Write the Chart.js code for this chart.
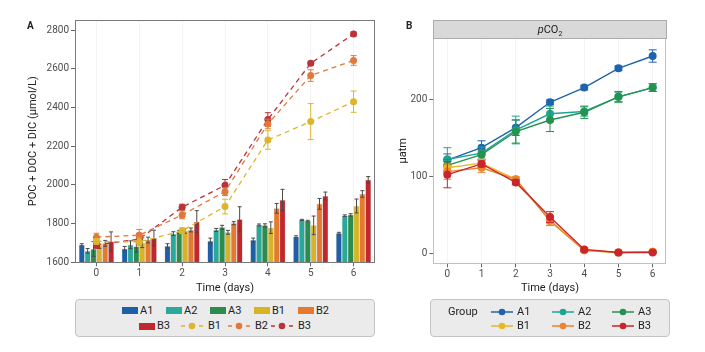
<!DOCTYPE html>
<html><head><meta charset="utf-8">
<script src="https://cdn.jsdelivr.net/npm/chart.js@4"></script>
<style>
body{margin:0;width:705px;height:352px;background:#fff;font-family:Roboto,"Noto Sans",sans-serif;position:relative;overflow:hidden;color:#222}
canvas{position:absolute;top:0}
.t{position:absolute;font-size:11px;line-height:12px;white-space:nowrap;color:#222}
.box{position:absolute;background:#ebebeb;border:1px solid #c4c4c4;border-radius:4px;box-sizing:border-box}
.sw{position:absolute;width:16px;height:7px}
svg{position:absolute;overflow:visible}
</style></head><body>
<canvas id="ca" width="380" height="300" style="left:0;width:380px;height:300px"></canvas>
<canvas id="cb" width="325" height="300" style="left:380px;width:325px;height:300px"></canvas>
<div class="t" style="left:27px;top:20px;font-weight:bold;font-size:10px">A</div>
<div class="t" style="left:406px;top:20px;font-weight:bold;font-size:10px">B</div>
<div style="position:absolute;left:433px;top:20px;width:234px;height:19px;background:#d9d9d9;border:1px solid #ababab;box-sizing:border-box;text-align:center;font-size:11px;line-height:17px"><i>p</i>CO<sub style="font-size:7px;line-height:0">2</sub></div>
<div class="box" style="left:75px;top:299px;width:300px;height:38px"></div>
<div class="box" style="left:430px;top:299px;width:240px;height:38px"></div>
<div id="lega"></div>
<div id="legb"></div>
<script>
// ---------------- data ----------------
const days = ['0','1','2','3','4','5','6'];
const dayNums = [0,1,2,3,4,5,6];
// Panel A: bars (POC + DOC + DIC, µmol/L)
const barA1 = [1690,1670,1684,1710,1715,1732,1750];
const barA2 = [1659,1691,1748,1767,1793,1819,1841];
const barA3 = [1669,1681,1757,1781,1791,1813,1845];
const barB1 = [1690,1701,1762,1755,1779,1791,1891];
const barB2 = [1698,1715,1767,1802,1879,1902,1953];
const barB3 = [1707,1726,1810,1822,1922,1943,2026];
const barErrA1 = [6,12,12,15,10,5,5];
const barErrA2 = [12,20,10,8,5,3,4];
const barErrA3 = [38,28,8,10,8,4,6];
const barErrB1 = [18,25,12,10,30,48,36];
const barErrB2 = [15,15,10,8,25,28,17];
const barErrB3 = [50,40,57,65,55,20,17];
// Panel A: dashed lines
const lineB1 = [1708,1705,1763,1888,2232,2327,2430];
const lineB2 = [1730,1740,1845,1965,2315,2565,2643];
const lineB3 = [1690,1720,1885,1998,2338,2628,2780];
const lineErrB1 = [15,20,15,38,48,93,55];
const lineErrB2 = [20,30,20,20,25,30,25];
const lineErrB3 = [18,30,15,30,35,10,10];
const yTicksA = [1600,1800,2000,2200,2400,2600,2800];
// Panel B: pCO2 (µatm)
const pA1 = [121,137,163,196,215,240,256];
const pA2 = [122,130,160,181,184,203,215];
const pA3 = [114,128,158,173,183,203,215];
const pB1 = [111,117,96,43,4,1,2];
const pB2 = [106,111,96,42,4,1,2];
const pB3 = [102,116,92,47,5,1,1];
const pErrA1 = [8,9,10,3,3,3,8];
const pErrA2 = [15,8,18,10,6,6,5];
const pErrA3 = [8,6,15,15,8,7,5];
const pErrB1 = [8,5,3,5,2,1,1];
const pErrB2 = [10,6,3,6,2,1,1];
const pErrB3 = [17,4,3,7,2,1,1];
const yTicksB = [0,100,200];

// ---------------- styles ----------------
const colA = {A1:'#1f5fa6',A2:'#2aa89a',A3:'#2b8c4e',B1:'#d8b328',B2:'#e57a2e',B3:'#c1272d'};
const colLineA = {B1:'#dcb52e',B2:'#e0783a',B3:'#b8333a'};
const colB = {A1:'#1f63ad',A2:'#1fa595',A3:'#24934f',B1:'#e7b923',B2:'#ec8531',B3:'#c9252b'};
const tickFont = {family:'Roboto', size:10};
const titleFont = {family:'Roboto', size:11};
const plain = v => String(v);

const errPlugin = {
  id:'err',
  drawErr(chart, index, meta){
    const ds = chart.data.datasets[index];
    if(!ds.err) return;
    const ctx = chart.ctx, ys = chart.scales.y;
    ctx.save();
    ctx.strokeStyle = ds.errColor; ctx.lineWidth = 1;
    meta.data.forEach((el,j)=>{
      const raw = ds.data[j]; const v = typeof raw==='object'? raw.y : raw;
      const e = ds.err[j]; const x = el.x;
      const y1 = ys.getPixelForValue(v-e), y2 = ys.getPixelForValue(v+e);
      const w = ds.capW;
      ctx.beginPath();
      ctx.moveTo(x,y1); ctx.lineTo(x,y2);
      ctx.moveTo(x-w,y1); ctx.lineTo(x+w,y1);
      ctx.moveTo(x-w,y2); ctx.lineTo(x+w,y2);
      ctx.stroke();
    });
    ctx.restore();
  },
  beforeDatasetDraw(chart,args){ const ds=chart.data.datasets[args.index]; if(ds.errBefore) this.drawErr(chart,args.index,args.meta); },
  afterDatasetDraw(chart,args){ const ds=chart.data.datasets[args.index]; if(!ds.errBefore) this.drawErr(chart,args.index,args.meta); },
  afterDraw(chart){
    const a = chart.chartArea, ctx = chart.ctx;
    ctx.save(); ctx.strokeStyle = chart.options.plugins.err.frame; ctx.lineWidth = 1;
    ctx.strokeRect(Math.round(a.left)+0.5, Math.round(a.top)+0.5, Math.round(a.right-a.left)-1, Math.round(a.bottom-a.top));
    ctx.restore();
  }
};

function barDs(label, data, err, color){
  return {type:'bar', label, data, err, errColor:'#4a4a4a', capW:2, backgroundColor:color,
    borderColor:'rgba(0,0,0,0.3)', borderWidth:0.5, order:2, categoryPercentage:0.82, barPercentage:1};
}
function dashDs(label, data, err, color){
  return {type:'line', label, data, err, errColor:color, capW:3, errBefore:true, borderColor:color,
    backgroundColor:color, borderDash:[5,4], borderWidth:1.3, pointRadius:3.5, pointBorderWidth:0,
    pointBackgroundColor:color, order:1, tension:0};
}

new Chart(document.getElementById('ca'), {
  data:{labels:days, datasets:[
    barDs('A1',barA1,barErrA1,colA.A1), barDs('A2',barA2,barErrA2,colA.A2), barDs('A3',barA3,barErrA3,colA.A3),
    barDs('B1',barB1,barErrB1,colA.B1), barDs('B2',barB2,barErrB2,colA.B2), barDs('B3',barB3,barErrB3,colA.B3),
    dashDs('B1',lineB1,lineErrB1,colLineA.B1), dashDs('B2',lineB2,lineErrB2,colLineA.B2), dashDs('B3',lineB3,lineErrB3,colLineA.B3)
  ]},
  options:{
    responsive:false, animation:false, devicePixelRatio:1,
    layout:{padding:{left:25,right:5,top:20,bottom:0}},
    plugins:{legend:{display:false}, tooltip:{enabled:false}, err:{frame:'#7a7a7a'}},
    scales:{
      x:{type:'category', offset:true,
        grid:{offset:false, color:'#f3f3f3', tickColor:'#666', tickLength:4},
        border:{display:false},
        ticks:{font:tickFont, color:'#4d4d4d', padding:1},
        title:{display:true, text:'Time (days)', font:titleFont, color:'#222', padding:{top:0,bottom:5}},
        afterFit(s){ s.height = 37.7; }
      },
      y:{type:'linear', min:1600, max:2852,
        grid:{drawOnChartArea:false, tickColor:'#666', tickLength:4},
        border:{display:false},
        ticks:{font:tickFont, color:'#4d4d4d', padding:2, callback:plain},
        afterBuildTicks(s){ s.ticks = yTicksA.map(v=>({value:v})); },
        title:{display:true, text:'POC + DOC + DIC (μmol/L)', font:titleFont, color:'#222', padding:{top:2,bottom:0}},
        afterFit(s){ s.width = 50; }
      }
    }
  },
  plugins:[errPlugin]
});

function pDs(label, vals, err, color, order){
  return {type:'line', label, data: dayNums.map((d,i)=>({x:d, y:vals[i]})), err, errColor:color, capW:4, errBefore:true,
    borderColor:color, backgroundColor:color, borderWidth:1.4, pointRadius:4, pointBorderWidth:0,
    pointBackgroundColor:color, order, tension:0};
}
new Chart(document.getElementById('cb'), {
  type:'line',
  data:{datasets:[
    pDs('A1',pA1,pErrA1,colB.A1,5), pDs('A2',pA2,pErrA2,colB.A2,4), pDs('A3',pA3,pErrA3,colB.A3,3),
    pDs('B1',pB1,pErrB1,colB.B1,2), pDs('B2',pB2,pErrB2,colB.B2,1), pDs('B3',pB3,pErrB3,colB.B3,0)
  ]},
  options:{
    responsive:false, animation:false, devicePixelRatio:1,
    layout:{padding:{left:15,right:38.3,top:38.3,bottom:0}},
    plugins:{legend:{display:false}, tooltip:{enabled:false}, err:{frame:'#c2c2c2'}},
    scales:{
      x:{type:'linear', min:-0.41, max:6.41,
        grid:{color:'#f3f3f3', tickColor:'#666', tickLength:4},
        border:{display:false},
        afterBuildTicks(s){ s.ticks = dayNums.map(v=>({value:v})); },
        ticks:{font:{family:'Roboto',size:10}, color:'#4d4d4d', padding:1, callback:plain},
        title:{display:true, text:'Time (days)', font:titleFont, color:'#222', padding:{top:0,bottom:5}},
        afterFit(s){ s.height = 36.7; }
      },
      y:{type:'linear', min:-13, max:279,
        grid:{drawOnChartArea:false, tickColor:'#666', tickLength:4},
        border:{display:false},
        afterBuildTicks(s){ s.ticks = yTicksB.map(v=>({value:v})); },
        ticks:{font:{family:'Roboto',size:10}, color:'#4d4d4d', padding:2, callback:plain},
        title:{display:true, text:'μatm', font:titleFont, color:'#222', padding:{top:2,bottom:0}},
        afterFit(s){ s.width = 38.3; }
      }
    }
  },
  plugins:[errPlugin]
});

// ---------------- legends ----------------
function text(parent, x, yc, s){ const d=document.createElement('div'); d.className='t'; d.style.left=x+'px'; d.style.top=(yc-6)+'px'; d.textContent=s; parent.appendChild(d); }
function swatch(parent, x, yc, c){ const d=document.createElement('div'); d.className='sw'; d.style.left=x+'px'; d.style.top=(yc-3.5)+'px'; d.style.background=c; parent.appendChild(d); }
function sym(parent, x, yc, w, c, dashed){
  const ns='http://www.w3.org/2000/svg'; const s=document.createElementNS(ns,'svg');
  s.setAttribute('width',w); s.setAttribute('height',10); s.style.left=x+'px'; s.style.top=(yc-5)+'px';
  const segs = dashed ? [[0,4],[w/2-3,w/2+3],[w-4,w]] : [[0,w]];
  segs.forEach(([a,b])=>{
    const l=document.createElementNS(ns,'line'); l.setAttribute('x1',a); l.setAttribute('x2',b); l.setAttribute('y1',5); l.setAttribute('y2',5);
    l.setAttribute('stroke',c); l.setAttribute('stroke-width',1.5); s.appendChild(l);
  });
  const ci=document.createElementNS(ns,'circle'); ci.setAttribute('cx',w/2); ci.setAttribute('cy',5); ci.setAttribute('r',3.3); ci.setAttribute('fill',c);
  s.appendChild(ci); parent.appendChild(s);
}
const la=document.getElementById('lega');
const r1=310.7, r2=326;
[['A1',122],['A2',166],['A3',210],['B1',254],['B2',298]].forEach(([k,x])=>{ swatch(la,x,r1,colA[k]); text(la,x+18,r1,k); });
swatch(la,139,r2,colA.B3); text(la,157,r2,'B3');
[['B1',181,208],['B2',228,255],['B3',271,298]].forEach(([k,x,tx])=>{ sym(la,x,r2,22,colLineA[k],true); text(la,tx,r2,k); });
const lb=document.getElementById('legb');
text(lb,448,311.7,'Group');
[['A1',491],['A2',552],['A3',612]].forEach(([k,x])=>{ sym(lb,x,311.7,22,colB[k],false); text(lb,x+26,311.7,k); });
[['B1',491],['B2',552],['B3',612]].forEach(([k,x])=>{ sym(lb,x,326,22,colB[k],false); text(lb,x+26,326,k); });
</script>
</body></html>
